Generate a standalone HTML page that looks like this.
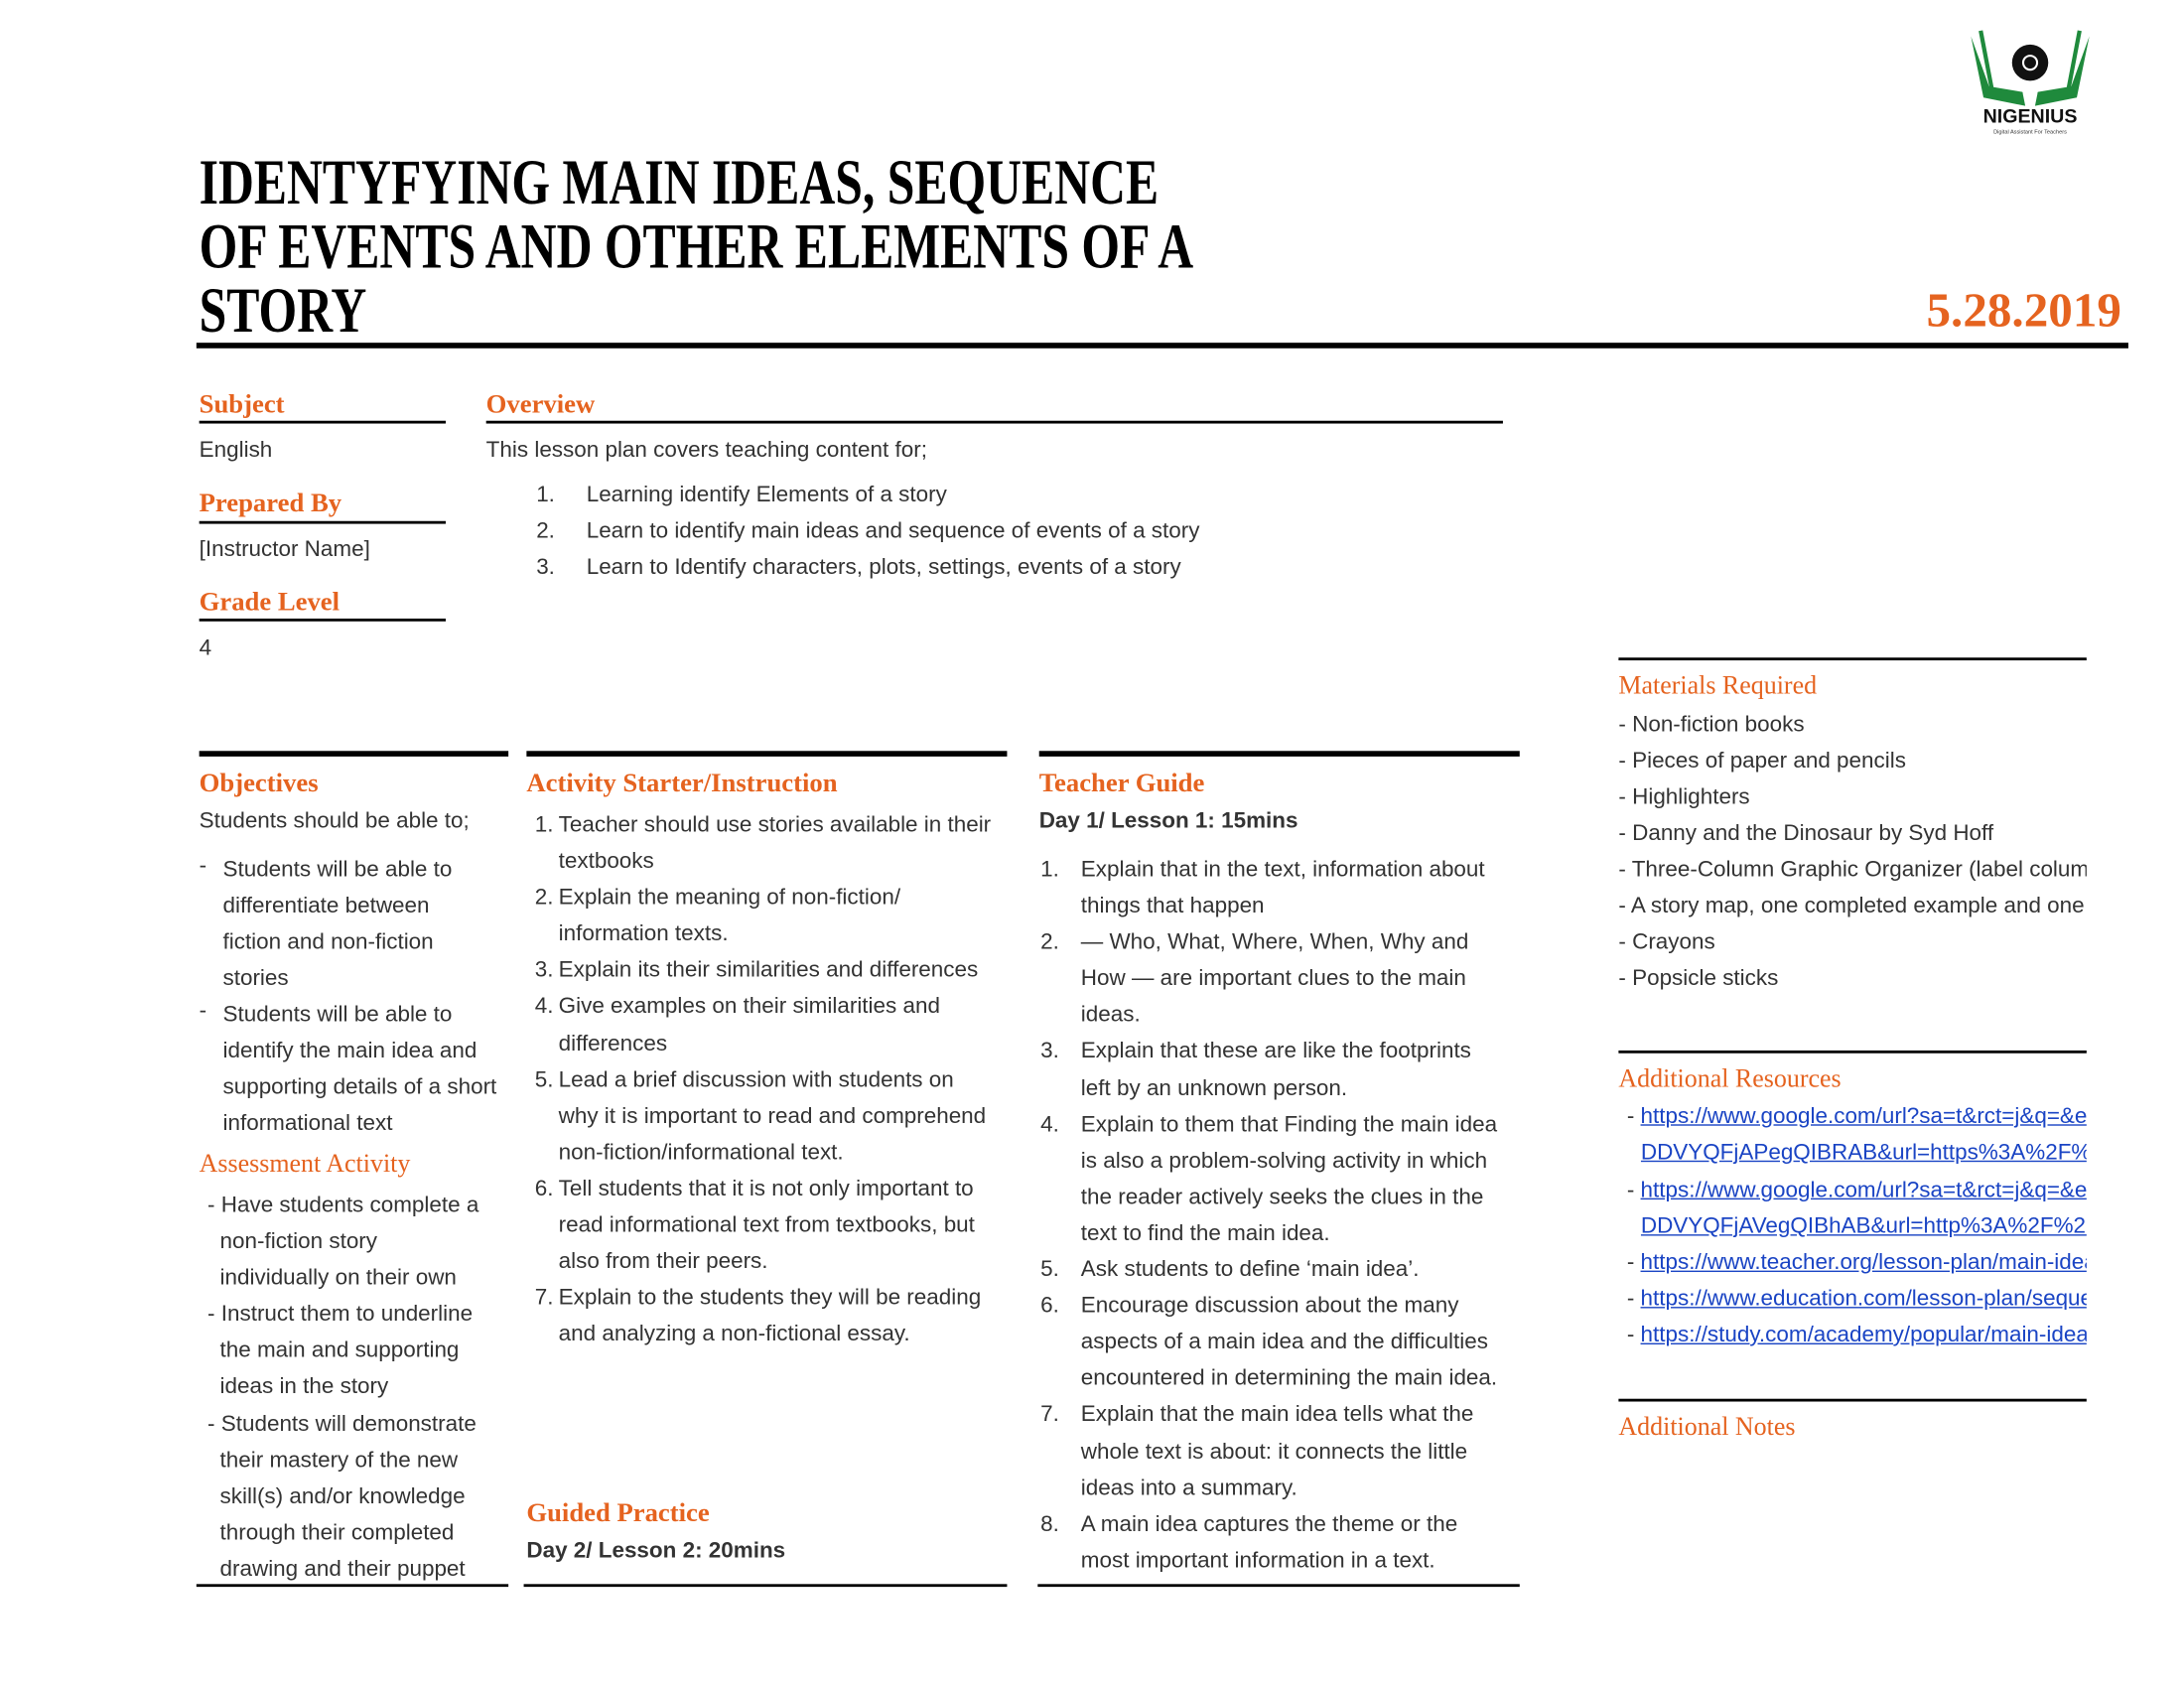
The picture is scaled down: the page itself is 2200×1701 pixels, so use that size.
<!DOCTYPE html>
<html><head><meta charset="utf-8">
<style>
html,body{margin:0;padding:0;background:#fff;width:2200px;height:1700px;overflow:hidden}
#s{position:absolute;left:0;top:0;width:1568px;height:1212px;transform:scale(1.4031);transform-origin:0 0;font-family:"Liberation Sans",sans-serif;color:#333}
#s div{position:absolute;white-space:nowrap}
.t{font-family:"Liberation Serif",serif;font-weight:bold;font-size:46px;color:#000;left:143px;transform:scaleX(0.77);transform-origin:0 0;margin-top:2px}
.h{font-family:"Liberation Serif",serif;font-weight:bold;font-size:19px;color:#E5631F;line-height:20px;margin-top:2px}
.h2{font-family:"Liberation Serif",serif;font-size:18.5px;color:#E5631F;line-height:20px;margin-top:2px}
.b{font-size:16px;line-height:20px;color:#333;margin-top:2px}
.bb{font-size:16px;line-height:20px;color:#333;font-weight:bold;margin-top:2px}
.r{background:#000}
a{color:#1a44c4;text-decoration:underline}
.clip{overflow:hidden;width:330px}
</style></head><body><div id="s">

<svg style="position:absolute;left:1410px;top:20px" width="95" height="80" viewBox="0 0 95 80">
<path d="M5 6 L14 50 L44 56 L42 46 L18 42 Z" fill="#1f8a3c"/>
<path d="M90 6 L81 50 L51 56 L53 46 L77 42 Z" fill="#1f8a3c"/>
<path d="M12 2 L20 44 L42 48" fill="none" stroke="#1f8a3c" stroke-width="3"/>
<path d="M83 2 L75 44 L53 48" fill="none" stroke="#1f8a3c" stroke-width="3"/>
<circle cx="47.5" cy="25" r="13" fill="#111"/>
<circle cx="47.5" cy="25" r="5" fill="none" stroke="#fff" stroke-width="1.5"/>
<text x="47.5" y="68" text-anchor="middle" font-family="Liberation Sans,sans-serif" font-weight="bold" font-size="14" fill="#111">NIGENIUS</text>
<text x="47.5" y="76" text-anchor="middle" font-family="Liberation Sans,sans-serif" font-size="4" fill="#333">Digital Assistant For Teachers</text>
</svg>

<div class="t" style="top:106px;line-height:46px">IDENTYFYING MAIN IDEAS, SEQUENCE<br>OF EVENTS AND OTHER ELEMENTS OF A<br>STORY</div>
<div style="top:203px;left:1383px;font-family:'Liberation Serif',serif;font-weight:bold;font-size:35px;color:#E5631F">5.28.2019</div>
<div class="r" style="left:141px;top:246px;width:1387px;height:4px"></div>

<div class="h" style="left:143px;top:279px">Subject</div>
<div class="r" style="left:143px;top:302px;width:177px;height:2px"></div>
<div class="b" style="left:143px;top:312px">English</div>
<div class="h" style="left:143px;top:350px">Prepared By</div>
<div class="r" style="left:143px;top:374px;width:177px;height:2px"></div>
<div class="b" style="left:143px;top:383px">[Instructor Name]</div>
<div class="h" style="left:143px;top:421px">Grade Level</div>
<div class="r" style="left:143px;top:444px;width:177px;height:2px"></div>
<div class="b" style="left:143px;top:454px">4</div>

<div class="h" style="left:349px;top:279px">Overview</div>
<div class="r" style="left:349px;top:302px;width:730px;height:2px"></div>
<div class="b" style="left:349px;top:312px">This lesson plan covers teaching content for;</div>
<div class="b" style="left:385px;top:344px">1.</div><div class="b" style="left:421px;top:344px">Learning identify Elements of a story</div>
<div class="b" style="left:385px;top:370px">2.</div><div class="b" style="left:421px;top:370px">Learn to identify main ideas and sequence of events of a story</div>
<div class="b" style="left:385px;top:396px">3.</div><div class="b" style="left:421px;top:396px">Learn to Identify characters, plots, settings, events of a story</div>

<div class="r" style="left:1162px;top:472px;width:336px;height:2px"></div>
<div class="h2" style="left:1162px;top:481px">Materials Required</div>
<div class="b clip" style="left:1162px;top:509px;width:336px">- Non-fiction books</div>
<div class="b clip" style="left:1162px;top:535px;width:336px">- Pieces of paper and pencils</div>
<div class="b clip" style="left:1162px;top:561px;width:336px">- Highlighters</div>
<div class="b clip" style="left:1162px;top:587px;width:336px">- Danny and the Dinosaur by Syd Hoff</div>
<div class="b clip" style="left:1162px;top:613px;width:336px">- Three-Column Graphic Organizer (label columns</div>
<div class="b clip" style="left:1162px;top:639px;width:336px">- A story map, one completed example and one blank</div>
<div class="b clip" style="left:1162px;top:665px;width:336px">- Crayons</div>
<div class="b clip" style="left:1162px;top:691px;width:336px">- Popsicle sticks</div>

<div class="r" style="left:1162px;top:754px;width:336px;height:2px"></div>
<div class="h2" style="left:1162px;top:763px">Additional Resources</div>
<div class="b clip" style="left:1168px;top:790px;width:330px">- <a>https://www.google.com/url?sa=t&amp;rct=j&amp;q=&amp;esrc</a></div>
<div class="b clip" style="left:1178px;top:816px;width:320px"><a>DDVYQFjAPegQIBRAB&amp;url=https%3A%2F%2Fwww</a></div>
<div class="b clip" style="left:1168px;top:843px;width:330px">- <a>https://www.google.com/url?sa=t&amp;rct=j&amp;q=&amp;esrc</a></div>
<div class="b clip" style="left:1178px;top:869px;width:320px"><a>DDVYQFjAVegQIBhAB&amp;url=http%3A%2F%2Fwww</a></div>
<div class="b clip" style="left:1168px;top:895px;width:330px">- <a>https://www.teacher.org/lesson-plan/main-idea</a></div>
<div class="b clip" style="left:1168px;top:921px;width:330px">- <a>https://www.education.com/lesson-plan/sequence</a></div>
<div class="b clip" style="left:1168px;top:947px;width:330px">- <a>https://study.com/academy/popular/main-idea</a></div>
<div class="r" style="left:1162px;top:1004px;width:336px;height:2px"></div>
<div class="h2" style="left:1162px;top:1013px">Additional Notes</div>

<div class="r" style="left:143px;top:539px;width:222px;height:4px"></div>
<div class="r" style="left:378px;top:539px;width:345px;height:4px"></div>
<div class="r" style="left:746px;top:539px;width:345px;height:4px"></div>
<div class="r" style="left:141px;top:1137px;width:224px;height:2px"></div>
<div class="r" style="left:376px;top:1137px;width:347px;height:2px"></div>
<div class="r" style="left:745px;top:1137px;width:346px;height:2px"></div>

<div class="h" style="left:143px;top:551px">Objectives</div>
<div class="b" style="left:143px;top:578px">Students should be able to;</div>
<div class="b" style="left:143px;top:610px">-</div>
<div class="b" style="left:160px;top:610px;line-height:26px">Students will be able to<br>differentiate between<br>fiction and non-fiction<br>stories</div>
<div class="b" style="left:143px;top:714px">-</div>
<div class="b" style="left:160px;top:714px;line-height:26px">Students will be able to<br>identify the main idea and<br>supporting details of a short<br>informational text</div>
<div class="h2" style="left:143px;top:824px">Assessment Activity</div>
<div class="b" style="left:149px;top:851px;line-height:26.1px">- Have students complete a<br>&nbsp;&nbsp;non-fiction story<br>&nbsp;&nbsp;individually on their own<br>- Instruct them to underline<br>&nbsp;&nbsp;the main and supporting<br>&nbsp;&nbsp;ideas in the story<br>- Students will demonstrate<br>&nbsp;&nbsp;their mastery of the new<br>&nbsp;&nbsp;skill(s) and/or knowledge<br>&nbsp;&nbsp;through their completed<br>&nbsp;&nbsp;drawing and their puppet</div>

<div class="h" style="left:378px;top:551px">Activity Starter/Instruction</div>
<div class="b" style="left:384px;top:578px;line-height:26.1px">1.<br><br>2.<br><br>3.<br>4.<br><br>5.<br><br><br>6.<br><br><br>7.</div>
<div class="b" style="left:401px;top:578px;line-height:26.1px">Teacher should use stories available in their<br>textbooks<br>Explain the meaning of non-fiction/<br>information texts.<br>Explain its their similarities and differences<br>Give examples on their similarities and<br>differences<br>Lead a brief discussion with students on<br>why it is important to read and comprehend<br>non-fiction/informational text.<br>Tell students that it is not only important to<br>read informational text from textbooks, but<br>also from their peers.<br>Explain to the students they will be reading<br>and analyzing a non-fictional essay.</div>
<div class="h" style="left:378px;top:1075px">Guided Practice</div>
<div class="bb" style="left:378px;top:1102px">Day 2/ Lesson 2: 20mins</div>

<div class="h" style="left:746px;top:551px">Teacher Guide</div>
<div class="bb" style="left:746px;top:578px">Day 1/ Lesson 1: 15mins</div>
<div class="b" style="left:747px;top:610px;line-height:26.1px">1.<br><br>2.<br><br><br>3.<br><br>4.<br><br><br><br>5.<br>6.<br><br><br>7.<br><br><br>8.</div>
<div class="b" style="left:776px;top:610px;line-height:26.1px">Explain that in the text, information about<br>things that happen<br>— Who, What, Where, When, Why and<br>How — are important clues to the main<br>ideas.<br>Explain that these are like the footprints<br>left by an unknown person.<br>Explain to them that Finding the main idea<br>is also a problem-solving activity in which<br>the reader actively seeks the clues in the<br>text to find the main idea.<br>Ask students to define ‘main idea’.<br>Encourage discussion about the many<br>aspects of a main idea and the difficulties<br>encountered in determining the main idea.<br>Explain that the main idea tells what the<br>whole text is about: it connects the little<br>ideas into a summary.<br>A main idea captures the theme or the<br>most important information in a text.</div>

</div></body></html>
